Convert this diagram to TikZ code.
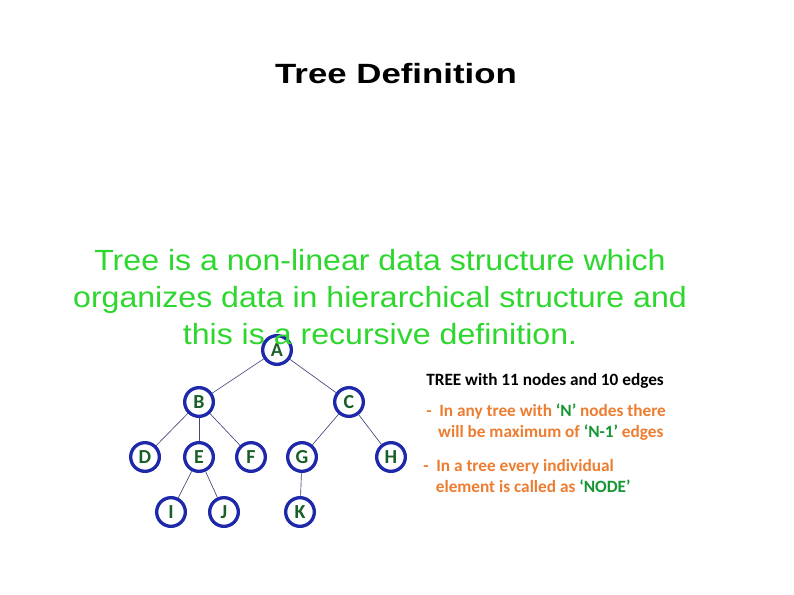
\documentclass[tikz,border=0pt]{standalone}
\usepackage{fontspec}
\setmainfont{Liberation Sans}
\newfontfamily\notefont{Carlito}
\newfontfamily\titlefont[FakeStretch=1.25]{Liberation Sans}
\newfontfamily\bodyfont[FakeStretch=1.1]{Liberation Sans}
\usetikzlibrary{positioning}
\definecolor{brightgreen}{RGB}{45,215,45}
\definecolor{ringblue}{RGB}{30,40,170}
\definecolor{lettergreen}{RGB}{25,95,40}
\definecolor{linkblue}{RGB}{70,70,125}
\definecolor{noteorange}{RGB}{237,125,49}
\definecolor{notegreen}{RGB}{20,150,50}

\begin{document}
\begin{tikzpicture}[
  x=0.0265cm, y=-0.0265cm,
  tnode/.style={circle, draw=ringblue, line width=2.5pt, fill=white,
                minimum size=0.76cm, inner sep=0pt, text=lettergreen,
                font=\notefont\bfseries\fontsize{15}{17}\selectfont},
  link/.style={draw=linkblue, line width=0.5pt},
  note/.style={anchor=west, align=left, inner sep=0pt,
               font=\notefont\bfseries\fontsize{13}{15.5}\selectfont},
]
  \useasboundingbox[fill=white] (0,0) rectangle (794,595);

  % tree
  \node[tnode] (a) at (277,350) {A};
  \node[tnode] (b) at (199,402) {B};
  \node[tnode] (c) at (349,402) {C};
  \node[tnode] (d) at (145,457) {D};
  \node[tnode] (e) at (199,457) {E};
  \node[tnode] (f) at (251,457) {F};
  \node[tnode] (g) at (302,457) {G};
  \node[tnode] (h) at (391,457) {H};
  \node[tnode] (i) at (171,512) {I};
  \node[tnode] (j) at (224,512) {J};
  \node[tnode] (k) at (300,512) {K};

  \draw[link] (a) -- (b);
  \draw[link] (a) -- (c);
  \draw[link] (b) -- (d);
  \draw[link] (b) -- (e);
  \draw[link] (b) -- (f);
  \draw[link] (c) -- (g);
  \draw[link] (c) -- (h);
  \draw[link] (e) -- (i);
  \draw[link] (e) -- (j);
  \draw[link] (g) -- (k);

  % texts
  \node (title) at (396,74)
    {\titlefont\bfseries\fontsize{21}{24}\selectfont Tree Definition};
  \node[align=center, text=brightgreen,
        font=\bodyfont\fontsize{22}{27.9}\selectfont] (defn) at (380,297)
    {Tree is a non-linear data structure which\\
     organizes data in hierarchical structure and\\
     this is a recursive definition.};

  \node[note] (count) at (426,381) {TREE with 11 nodes and 10 edges};
  \node[note, text=noteorange] (rule) at (426,422)
    {-\ \ In any tree with \textcolor{notegreen}{‘N’} nodes there\\
     \hspace*{9pt}will be maximum of \textcolor{notegreen}{‘N-1’} edges};
  \node[note, text=noteorange] (elem) at (423,476)
    {-\ \ In a tree every individual\\
     \hspace*{9.5pt}element is called as \textcolor{notegreen}{‘NODE’}};
\end{tikzpicture}
\end{document}
